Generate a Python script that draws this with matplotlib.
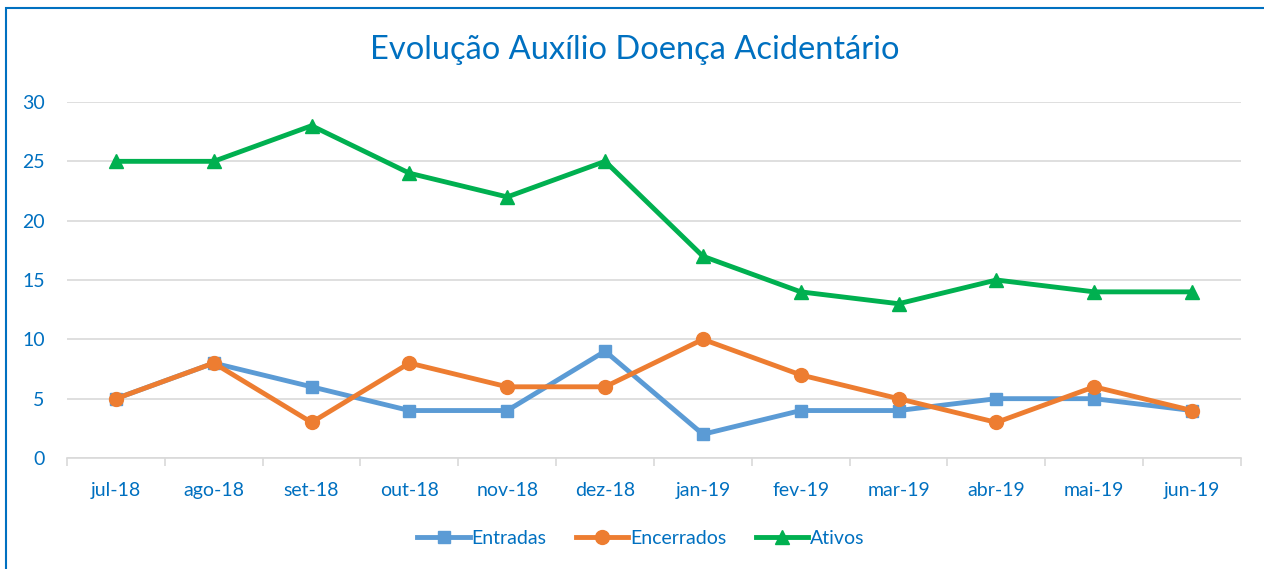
import matplotlib.pyplot as plt
import numpy as np
from matplotlib.patches import Rectangle

months = ["jul-18", "ago-18", "set-18", "out-18", "nov-18", "dez-18",
          "jan-19", "fev-19", "mar-19", "abr-19", "mai-19", "jun-19"]
entradas = [5, 8, 6, 4, 4, 9, 2, 4, 4, 5, 5, 4]
encerrados = [5, 8, 3, 8, 6, 6, 10, 7, 5, 3, 6, 4]
ativos = [25, 25, 28, 24, 22, 25, 17, 14, 13, 15, 14, 14]

blue = "#0070C0"
grid = "#D9D9D9"
plt.rcParams['font.family'] = ['Lato', 'DejaVu Sans']

fig = plt.figure(figsize=(12.64, 5.69), dpi=100)
ax = fig.add_axes([67/1264, 1-458/569, (1241-67)/1264, (458-102)/569])

x = np.arange(len(months))
ax.plot(x, entradas, color="#5B9BD5", lw=3.5, marker="s", ms=9, label="Entradas", zorder=3)
ax.plot(x, encerrados, color="#ED7D31", lw=3.5, marker="o", ms=10, label="Encerrados", zorder=4)
ax.plot(x, ativos, color="#00B050", lw=3.5, marker="^", ms=10, label="Ativos", zorder=5)

ax.set_xlim(-0.5, len(months) - 0.5)
ax.set_ylim(0, 30)
ax.set_yticks(range(0, 31, 5))
ax.set_xticks(x)
ax.set_xticklabels(months)
ax.set_xticks(np.arange(-0.5, len(months)), minor=True)
ax.tick_params(axis="x", which="major", length=0, pad=17, labelsize=14, labelcolor=blue)
ax.tick_params(axis="x", which="minor", length=6, color=grid, width=1.2)
ax.tick_params(axis="y", length=0, pad=16, labelsize=14, labelcolor=blue)
ax.grid(axis="y", color=grid, lw=1.2)
ax.set_axisbelow(True)
for s in ["top", "right", "left"]:
    ax.spines[s].set_visible(False)
ax.spines["bottom"].set_color(grid)
ax.spines["bottom"].set_linewidth(1.2)

fig.text(635/1264, 1-50/569, "Evolução Auxílio Doença Acidentário", color=blue,
         fontsize=23.5, ha="center", va="center")

leg = fig.legend(loc="center", bbox_to_anchor=(641/1264, 1-538/569), ncol=3, frameon=False,
                 fontsize=14, handlelength=2.7, handletextpad=0.1, columnspacing=1.5)
for t in leg.get_texts():
    t.set_color(blue)

fig.patches.append(Rectangle((6/1264, -0.1), 1.2, 1.1-8/569, transform=fig.transFigure,
                             fill=False, edgecolor=blue, lw=1.5))

fig.savefig("out.png", dpi=100)
